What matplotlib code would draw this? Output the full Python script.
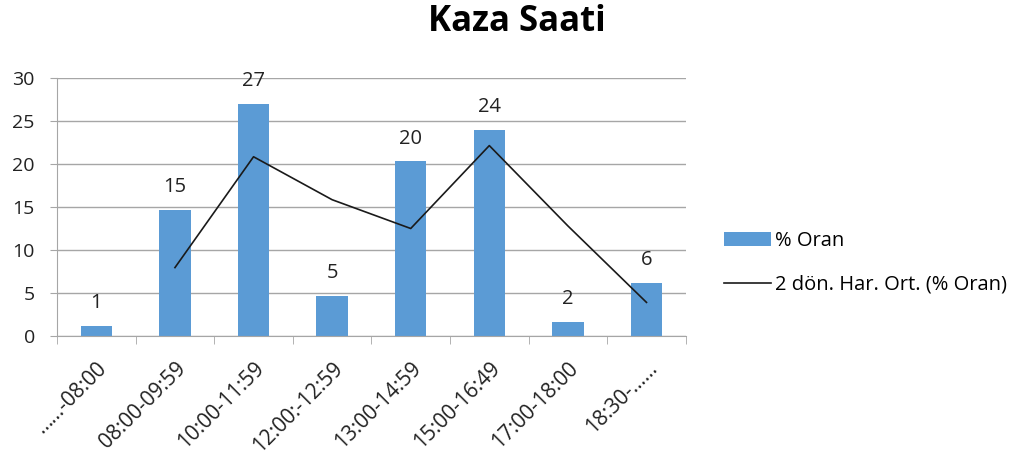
import numpy as np
import matplotlib.pyplot as plt

plt.rcParams['font.family'] = ['Open Sans', 'DejaVu Sans']

categories = ['……-08:00', '08:00-09:59', '10:00-11:59', '12:00:-12:59',
              '13:00-14:59', '15:00-16:49', '17:00-18:00', '18:30-……']
oran = [1.2, 14.7, 27.0, 4.7, 20.3, 24.0, 1.6, 6.2]
labels = ['1', '15', '27', '5', '20', '24', '2', '6']
har_ort = [7.95, 20.85, 15.85, 12.5, 22.15, 12.8, 3.9]

grey = '#a6a6a6'
txt = '#222222'

fig = plt.figure(figsize=(10.19, 4.57), dpi=100)
ax = fig.add_axes([0.056, 0.265, 0.617, 0.564])

x = np.arange(len(categories))
bars = ax.bar(x, oran, width=0.4, color='#5b9bd5', label='% Oran', zorder=2)
line, = ax.plot(x[1:], har_ort, color='#1a1a1a', linewidth=1.2,
                label='2 dön. Har. Ort. (% Oran)', zorder=3)

# data labels above the bars
for xi, v, t in zip(x, oran, labels):
    ax.text(xi, v + 1.5, t, ha='center', va='bottom', fontsize=14.5, color=txt)

ax.set_xlim(-0.5, len(categories) - 0.5)
ax.set_ylim(0, 30)
ax.set_yticks(range(0, 31, 5))
ax.yaxis.grid(True, color=grey, linewidth=1, zorder=0)
ax.tick_params(axis='y', length=5, color=grey, labelsize=14, colors=txt, pad=11)
ax.tick_params(axis='y', color=grey)

ax.set_xticks(x)
ax.set_xticklabels(categories, rotation=45, ha='right', rotation_mode='anchor',
                   fontsize=15, color=txt)
ax.tick_params(axis='x', which='major', length=0, pad=16)
ax.set_xticks(np.arange(-0.5, len(categories)), minor=True)
ax.tick_params(axis='x', which='minor', length=6, color=grey)

for s in ['top', 'right']:
    ax.spines[s].set_visible(False)
ax.spines['bottom'].set_color(grey)
ax.spines['left'].set_color(grey)

fig.text(0.507, 0.952, 'Kaza Saati', ha='center', va='center', fontsize=25, fontweight='bold')

fig.legend(handles=[bars, line], labels=['% Oran', '2 dön. Har. Ort. (% Oran)'],
           loc='center left', bbox_to_anchor=(0.693, 0.425), frameon=False, fontsize=14.5,
           handlelength=2.3, labelspacing=1.2, handletextpad=0.2)

fig.savefig('out.png')
